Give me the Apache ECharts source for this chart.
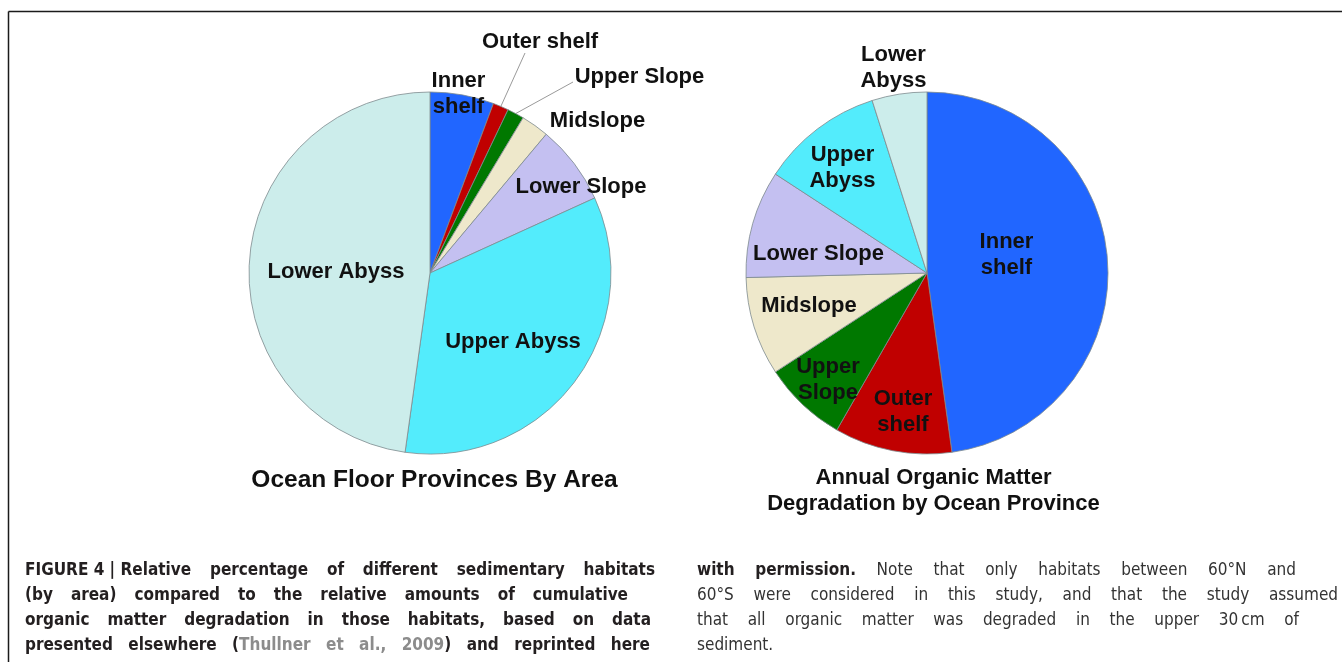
<!DOCTYPE html>
<html><head><meta charset="utf-8">
<script src="https://cdn.jsdelivr.net/npm/echarts@6/dist/echarts.min.js"></script>
<style>html,body{margin:0;padding:0;background:#fff}#c{width:1342px;height:662px}</style>
</head><body><div id="c"></div><script>
// ---------- DATA ----------
const categories = ['Inner shelf', 'Outer shelf', 'Upper Slope', 'Midslope', 'Lower Slope', 'Upper Abyss', 'Lower Abyss'];
const areaShares = [5.7, 1.4, 1.5, 2.5, 7.1, 34.0, 47.8];          // % of ocean floor area
const degradationShares = [47.8, 10.5, 7.5, 8.8, 9.6, 10.9, 4.9];  // % of annual OM degradation
const areaLabelText = ['Inner\nshelf', 'Outer shelf', 'Upper Slope', 'Midslope', 'Lower Slope', 'Upper Abyss', 'Lower Abyss'];
const degradationLabelText = ['Inner\nshelf', 'Outer\nshelf', 'Upper\nSlope', 'Midslope', 'Lower Slope', 'Upper\nAbyss', 'Lower\nAbyss'];
const leftTitle = 'Ocean Floor Provinces By Area';
const rightTitleLines = ['Annual Organic Matter', 'Degradation by Ocean Province'];
// caption lines: runs of [text, style]  (b = bold, g = grey bold link, r = regular)
const captionLeft = [
  [['FIGURE\u00a04\u00a0|\u00a0Relative percentage of different sedimentary habitats', 'b']],
  [['(by area) compared to the relative amounts of cumulative', 'b']],
  [['organic matter degradation in those habitats, based on data', 'b']],
  [['presented elsewhere (', 'b'], ['Thullner et al., 2009', 'g'], [') and reprinted here', 'b']]
];
const captionRight = [
  [['with permission.', 'b'], [' Note that only habitats between 60°N and', 'r']],
  [['60°S were considered in this study, and that the study assumed', 'r']],
  [['that all organic matter was degraded in the upper 30\u2009cm of', 'r']],
  [['sediment.', 'r']]
];

// ---------- STYLE / LAYOUT ----------
const sliceColors = ['#2166FF', '#C00000', '#007800', '#EEE8CB', '#C4C0F1', '#53ECFC', '#CCEDEB'];
const leftCenter = [430, 273], rightCenter = [927, 273], pieRadius = 181;
const labelFont = '"Liberation Sans", Arial, sans-serif';
const areaLabelOffsets = [[28.5, -179], [110, -231], [209.5, -196], [167.5, -152.5], [151, -86.5], [83, 68.6], [-94, -1.4]];
const areaLeaderEnds = { 1: [-15, 11], 2: [-66.5, 5] };
const degLabelOffsets = [[79.5, -18.5], [-24, 139.3], [-99, 107], [-118, 32.6], [-108.5, -19], [-84.5, -105.5], [-33.5, -205]];
const captionFamily = '"Liberation Sans Narrow", "DejaVu Sans Condensed", "Liberation Sans", sans-serif';
const captionSize = 17;
const captionStyles = {
  b: { weight: 'bold', fill: '#231f20' },
  g: { weight: 'bold', fill: '#8c8c8c' },
  r: { weight: 'normal', fill: '#333333' }
};
const captionLeftBox = { x: 25, rights: [655, 628, 651, 650], justify: [true, true, true, true] };
const captionRightBox = { x: 697, rights: [1296, 1338, 1299, 0], justify: [true, true, true, false] };
const captionRowY = [571, 596, 621, 646];

// ---------- BUILD ----------
function makeData(values, texts, leaders) {
  return values.map((v, i) => {
    const item = {
      name: categories[i], value: v,
      itemStyle: { color: sliceColors[i] },
      label: { formatter: texts[i] }
    };
    if (leaders && leaders[i]) {
      item.label.position = 'outside';
      item.labelLine = { show: true, length: 20, length2: 0, lineStyle: { color: '#9a9a9a', width: 1 } };
    }
    return item;
  });
}

function pieSeries(center, values, texts, offsets, leaders) {
  return {
    type: 'pie', center: center, radius: pieRadius, startAngle: 90, clockwise: true,
    silent: true, animation: false, avoidLabelOverlap: false,
    itemStyle: { borderColor: '#7d8a8e', borderWidth: 0.8 },
    label: {
      show: true, position: 'inside', color: '#111', fontFamily: labelFont,
      fontWeight: 'bold', fontSize: 22, lineHeight: 26, textBorderWidth: 0
    },
    labelLine: { show: false },
    data: makeData(values, texts, leaders),
    labelLayout: function (p) {
      const o = offsets[p.dataIndex];
      const x = center[0] + o[0], y = center[1] + o[1];
      const res = { x: x, y: y, align: 'center', verticalAlign: 'middle' };
      if (leaders && leaders[p.dataIndex] && p.labelLinePoints) {
        const e = leaders[p.dataIndex];
        res.labelLinePoints = [p.labelLinePoints[0], [x + e[0], y + e[1]]];
      }
      return res;
    }
  };
}

const measureCtx = document.createElement('canvas').getContext('2d');
function fontStr(st) { return st.weight + ' ' + captionSize + 'px ' + captionFamily; }
function textWidth(t, st) { measureCtx.font = fontStr(st); return measureCtx.measureText(t).width; }

function captionGraphics(lines, box) {
  const out = [];
  lines.forEach((runs, li) => {
    const tokens = [];
    let cur = [];
    runs.forEach(([text, sk]) => {
      const parts = text.split(' ');
      parts.forEach((part, pi) => {
        if (pi > 0) { if (cur.length) tokens.push(cur); cur = []; }
        if (part.length) cur.push([part, sk]);
      });
    });
    if (cur.length) tokens.push(cur);
    const widths = tokens.map(tk => tk.reduce((s, [t, sk]) => s + textWidth(t, captionStyles[sk]), 0));
    const total = widths.reduce((a, b) => a + b, 0);
    let gap = textWidth(' ', captionStyles.r);
    if (box.justify[li] && tokens.length > 1) gap = (box.rights[li] - box.x - total) / (tokens.length - 1);
    let x = box.x;
    tokens.forEach((tk, ti) => {
      let xx = x;
      tk.forEach(([t, sk]) => {
        const st = captionStyles[sk];
        out.push({
          type: 'text', x: xx, y: captionRowY[li], silent: true,
          style: { text: t, fill: st.fill, fontSize: captionSize, fontWeight: st.weight, fontFamily: captionFamily, align: 'left', verticalAlign: 'middle' }
        });
        xx += textWidth(t, st);
      });
      x += widths[ti] + gap;
    });
  });
  return out;
}

const graphics = [
  { type: 'line', silent: true, shape: { x1: 8.5, y1: 11.5, x2: 1342, y2: 11.5 }, style: { stroke: '#1b1b1b', lineWidth: 1.5 } },
  { type: 'line', silent: true, shape: { x1: 8.5, y1: 11.5, x2: 8.5, y2: 662 }, style: { stroke: '#1b1b1b', lineWidth: 1.5 } },
  { type: 'text', silent: true, x: 434.5, y: 480, style: { text: leftTitle, fill: '#111', fontSize: 24.5, fontWeight: 'bold', fontFamily: labelFont, align: 'center', verticalAlign: 'middle' } },
  { type: 'text', silent: true, x: 933.5, y: 478, style: { text: rightTitleLines[0], fill: '#111', fontSize: 22, fontWeight: 'bold', fontFamily: labelFont, align: 'center', verticalAlign: 'middle' } },
  { type: 'text', silent: true, x: 933.5, y: 504, style: { text: rightTitleLines[1], fill: '#111', fontSize: 22, fontWeight: 'bold', fontFamily: labelFont, align: 'center', verticalAlign: 'middle' } }
].concat(captionGraphics(captionLeft, captionLeftBox), captionGraphics(captionRight, captionRightBox));

const chart = echarts.init(document.getElementById('c'), null, { renderer: 'canvas' });
chart.setOption({
  backgroundColor: '#ffffff',
  animation: false,
  series: [
    pieSeries(leftCenter, areaShares, areaLabelText, areaLabelOffsets, areaLeaderEnds),
    pieSeries(rightCenter, degradationShares, degradationLabelText, degLabelOffsets, null)
  ],
  graphic: graphics
});
</script></body></html>
